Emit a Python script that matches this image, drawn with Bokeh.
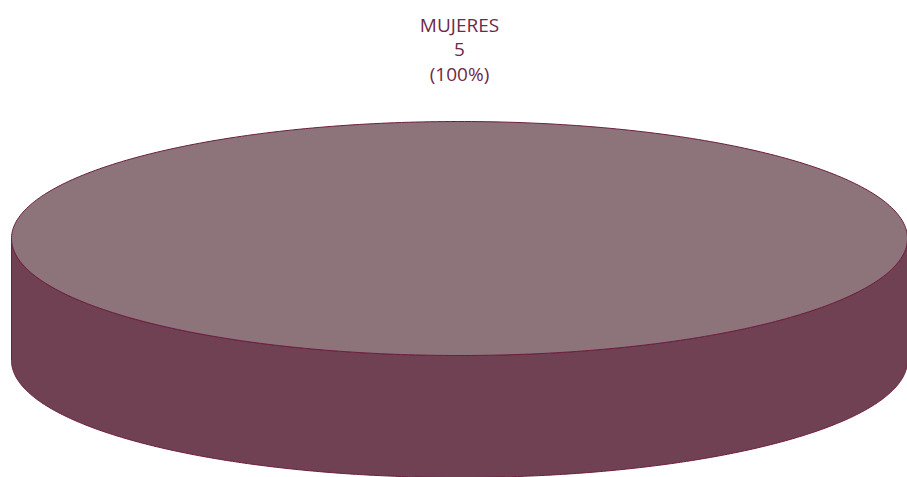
import numpy as np
from bokeh.plotting import figure
from bokeh.models import Range1d
from bokeh.core.properties import value
from bokeh.embed import file_html
from bokeh.resources import INLINE

# data
categories = ["MUJERES"]
values = [5]

top_color = "#8c747a"
side_color = "#6f4153"
edge_color = "#6d1f40"
text_color = "#6e2a48"

# layout (image pixel coords, y up = 477 - y_img)
W, H = 907, 477
cx, cy_top = 459, 477 - 238
rx, ry = 448, 117
depth = 122

p = figure(width=W, height=H, output_backend="svg", toolbar_location=None,
           x_range=Range1d(0, W), y_range=Range1d(0, H), min_border=0)
p.axis.visible = False
p.grid.visible = False
p.outline_line_color = None
p.background_fill_color = "white"
p.border_fill_color = "white"

total = float(sum(values))
start = 0.0
for cat, v in zip(categories, values):
    frac = v / total
    end = start + frac * 2 * np.pi
    t = np.linspace(start, end, 400)
    if end > np.pi:
        ts = np.linspace(max(start, np.pi), min(end, 2 * np.pi), 400)
        xs_top = cx + rx * np.cos(ts)
        ys_top = cy_top + ry * np.sin(ts)
        xs = np.concatenate([xs_top, xs_top[::-1]])
        ys = np.concatenate([ys_top, (ys_top - depth)[::-1]])
        p.patch(xs, ys, fill_color=side_color, line_color=edge_color, line_width=1)
    xt = cx + rx * np.cos(t)
    yt = cy_top + ry * np.sin(t)
    if frac < 1:
        xt = np.concatenate([[cx], xt])
        yt = np.concatenate([[cy_top], yt])
    p.patch(xt, yt, fill_color=top_color, line_color=edge_color, line_width=1)

    lines = [cat, f"{v}", f"({frac*100:.0f}%)"]
    for i, s in enumerate(lines):
        p.text(x=[cx], y=[477 - (24 + 24.5 * i)], text=[s], text_align="center",
               text_baseline="middle", text_color=text_color, text_font_size="19px",
               text_font=value("Open Sans"))
    start = end

open("out.html", "w").write(file_html(p, INLINE))
